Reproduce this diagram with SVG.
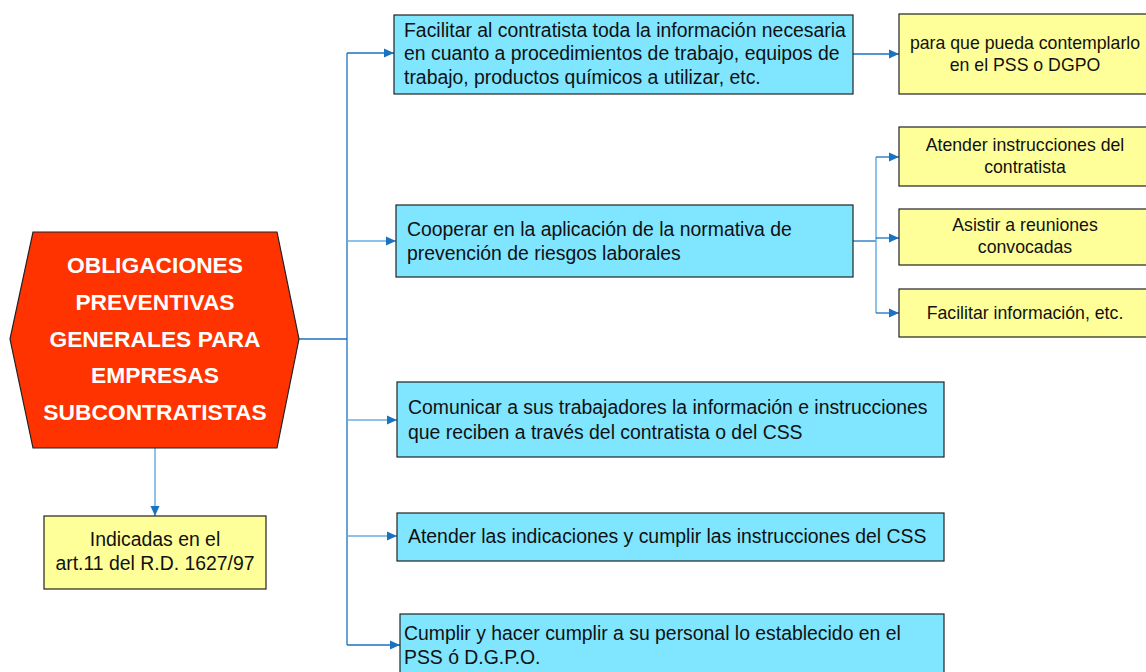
<svg xmlns="http://www.w3.org/2000/svg" width="1146" height="672" viewBox="0 0 1146 672">
<defs>
<marker id="arr" markerUnits="userSpaceOnUse" markerWidth="10" markerHeight="10" viewBox="0 0 10 10" refX="10" refY="5" orient="auto">
<path d="M0,0.5 L10,5 L0,9.5 Z" fill="#1a72c0"/>
</marker>
<style>
.blue{fill:#80e5ff;stroke:#222;stroke-width:1.2}
.yel{fill:#ffff99;stroke:#222;stroke-width:1.2}
.t{font-family:"Liberation Sans",Arial,sans-serif;font-size:19.4px;fill:#111}
.ty{font-family:"Liberation Sans",Arial,sans-serif;font-size:17.7px;fill:#111;text-anchor:middle}
.ti{font-size:19.4px}
.th{font-family:"Liberation Sans",Arial,sans-serif;font-size:22.8px;font-weight:bold;fill:#fff;text-anchor:middle}
.c{fill:none;stroke:#1a72c0;stroke-width:1.3}
.cl{fill:none;stroke:#6aaee0;stroke-width:1.5}
</style>
</defs>
<g id="connectors">
<path class="c" d="M299,339 H347" stroke-width="2"/>
<path class="c" d="M347,53 V645"/>
<path class="c" d="M347,53 H394" marker-end="url(#arr)"/>
<path class="cl" d="M347,241 H396" marker-end="url(#arr)"/>
<path class="cl" d="M347,420 H397" marker-end="url(#arr)"/>
<path class="cl" d="M347,536 H397" marker-end="url(#arr)"/>
<path class="c" d="M347,645 H400" marker-end="url(#arr)"/>
<path class="c" d="M853,54 H899" marker-end="url(#arr)"/>
<path class="c" d="M853,241 H876"/>
<path class="cl" d="M876,157 V313"/>
<path class="c" d="M876,157 H899" marker-end="url(#arr)"/>
<path class="c" d="M876,238 H899" marker-end="url(#arr)"/>
<path class="c" d="M876,313 H899" marker-end="url(#arr)"/>
<path class="cl" d="M155,448 V516" marker-end="url(#arr)"/>
</g>
<g id="main">
<polygon points="33,232 277,232 299,339 277,448 33,448 10,339" fill="#ff3300" stroke="#222" stroke-width="1.2"/>
<text class="th" x="155" y="273">OBLIGACIONES</text>
<text class="th" x="155" y="310">PREVENTIVAS</text>
<text class="th" x="155" y="347">GENERALES PARA</text>
<text class="th" x="155" y="383">EMPRESAS</text>
<text class="th" x="155" y="420">SUBCONTRATISTAS</text>
</g>
<g id="indicadas">
<rect class="yel" x="44" y="516" width="222" height="73"/>
<text class="ty ti" x="155" y="546">Indicadas en el</text>
<text class="ty ti" x="155" y="570">art.11 del R.D. 1627/97</text>
</g>
<g id="b1">
<rect class="blue" x="394" y="15" width="459" height="79"/>
<text class="t" x="404" y="37">Facilitar al contratista toda la información necesaria</text>
<text class="t" x="404" y="60">en cuanto a procedimientos de trabajo, equipos de</text>
<text class="t" x="404" y="84">trabajo, productos químicos a utilizar, etc.</text>
</g>
<g id="y1">
<rect class="yel" x="899" y="14" width="252" height="80"/>
<text class="ty" x="1025" y="49">para que pueda contemplarlo</text>
<text class="ty" x="1025" y="71">en el PSS o DGPO</text>
</g>
<g id="b2">
<rect class="blue" x="396" y="205" width="457" height="72"/>
<text class="t" x="407" y="236">Cooperar en la aplicación de la normativa de</text>
<text class="t" x="407" y="260">prevención de riesgos laborales</text>
</g>
<g id="y2">
<rect class="yel" x="899" y="127" width="252" height="59"/>
<text class="ty" x="1025" y="151">Atender instrucciones del</text>
<text class="ty" x="1025" y="173">contratista</text>
</g>
<g id="y3">
<rect class="yel" x="899" y="209" width="252" height="56"/>
<text class="ty" x="1025" y="231">Asistir a reuniones</text>
<text class="ty" x="1025" y="253">convocadas</text>
</g>
<g id="y4">
<rect class="yel" x="899" y="289" width="252" height="48"/>
<text class="ty" x="1025" y="319">Facilitar información, etc.</text>
</g>
<g id="b3">
<rect class="blue" x="397" y="382" width="547" height="75"/>
<text class="t" x="408" y="414">Comunicar a sus trabajadores la información e instrucciones</text>
<text class="t" x="408" y="439">que reciben a través del contratista o del CSS</text>
</g>
<g id="b4">
<rect class="blue" x="397" y="513" width="547" height="48"/>
<text class="t" x="408" y="543">Atender las indicaciones y cumplir las instrucciones del CSS</text>
</g>
<g id="b5">
<rect class="blue" x="400" y="614" width="544" height="70"/>
<text class="t" x="404" y="640">Cumplir y hacer cumplir a su personal lo establecido en el</text>
<text class="t" x="404" y="664">PSS ó D.G.P.O.</text>
</g>
</svg>
